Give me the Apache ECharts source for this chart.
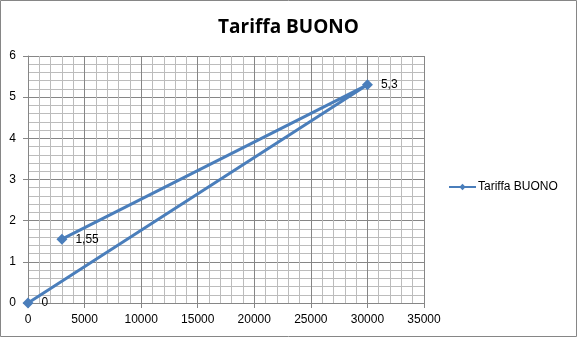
<!DOCTYPE html>
<html><head><meta charset="utf-8">
<script src="https://cdn.jsdelivr.net/npm/echarts@6/dist/echarts.min.js"></script>
<style>html,body{margin:0;padding:0;background:#fff}#c{width:577px;height:337px}</style>
</head><body><div id="c"></div>
<script>
var seriesName = 'Tariffa BUONO';
var xValues = [0, 30000, 3000];
var yValues = [0, 5.3, 1.55];
var xTicks = [0, 5000, 10000, 15000, 20000, 25000, 30000, 35000];
var yTicks = [0, 1, 2, 3, 4, 5, 6];

var pts = xValues.map(function (x, i) { return [x, yValues[i]]; });
var chart = echarts.init(document.getElementById('c'), null, {renderer: 'canvas'});
var font = '"Liberation Sans", Arial, sans-serif';
chart.setOption({
  animation: false,
  title: {
    text: 'Tariffa BUONO', left: 'center', top: 13,
    textStyle: {fontFamily: '"Open Sans", "DejaVu Sans", sans-serif', fontWeight: 'bold', fontSize: 19, color: '#000'}
  },
  legend: {
    data: [seriesName], left: 448, top: 181, padding: 0, itemWidth: 27, itemHeight: 8,
    textStyle: {fontFamily: font, fontSize: 12, color: '#000', padding: [0, 0, 0, -3]}, itemGap: 4
  },
  grid: {left: 28, top: 56, width: 396, height: 247},
  xAxis: {
    type: 'value', min: xTicks[0], max: xTicks[xTicks.length - 1], interval: 5000,
    axisLine: {show: true, lineStyle: {color: '#868686'}},
    axisTick: {show: true, length: 5, lineStyle: {color: '#868686'}},
    minorTick: {show: false, splitNumber: 5},
    splitLine: {show: true, lineStyle: {color: '#868686', width: 1}},
    minorSplitLine: {show: true, lineStyle: {color: '#bcbcbc', width: 1}},
    axisLabel: {fontFamily: font, fontSize: 12, color: '#000', margin: 11,
      formatter: function (v) { return String(v); }}
  },
  yAxis: {
    type: 'value', min: yTicks[0], max: yTicks[yTicks.length - 1], interval: 1,
    axisLine: {show: true, lineStyle: {color: '#868686'}},
    axisTick: {show: true, length: 5, lineStyle: {color: '#868686'}},
    minorTick: {show: false, splitNumber: 5},
    splitLine: {show: true, lineStyle: {color: '#868686', width: 1}},
    minorSplitLine: {show: true, lineStyle: {color: '#bcbcbc', width: 1}},
    axisLabel: {fontFamily: font, fontSize: 12, color: '#000', margin: 12}
  },
  series: [{
    name: seriesName, type: 'line', data: pts,
    symbol: 'diamond', symbolSize: 11,
    lineStyle: {color: '#4a7ebb', width: 3},
    itemStyle: {color: '#4a7ebb'},
    label: {
      show: true, position: 'right', distance: 8,
      fontFamily: font, fontSize: 12, color: '#000',
      formatter: function (p) { return String(p.value[1]).replace('.', ','); }
    }
  }],
  graphic: [{
    type: 'rect', shape: {x: 0.5, y: 0.5, width: 576, height: 336},
    style: {fill: 'none', stroke: '#868686', lineWidth: 1}, silent: true
  }]
});
</script></body></html>
